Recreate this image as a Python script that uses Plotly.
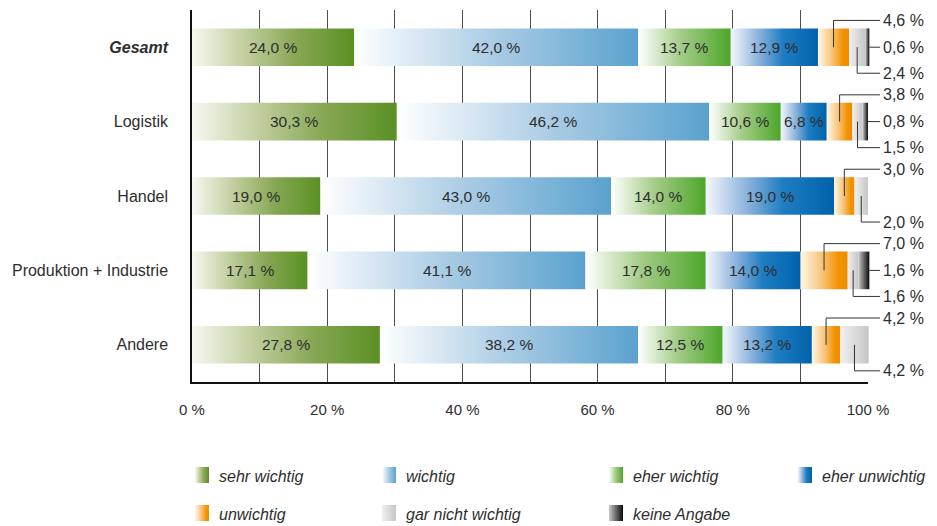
import plotly.graph_objects as go

# ---- data -----------------------------------------------------------------
CATEGORIES = ["Gesamt", "Logistik", "Handel", "Produktion + Industrie", "Andere"]
CATEGORY_LABELS = ["<b><i>Gesamt</i></b>", "Logistik", "Handel",
                   "Produktion + Industrie", "Andere"]

SERIES = ["sehr wichtig", "wichtig", "eher wichtig", "eher unwichtig",
          "unwichtig", "gar nicht wichtig", "keine Angabe"]

SEHR_WICHTIG = [24.0, 30.3, 19.0, 17.1, 27.8]
WICHTIG = [42.0, 46.2, 43.0, 41.1, 38.2]
EHER_WICHTIG = [13.7, 10.6, 14.0, 17.8, 12.5]
EHER_UNWICHTIG = [12.9, 6.8, 19.0, 14.0, 13.2]
UNWICHTIG = [4.6, 3.8, 3.0, 7.0, 4.2]
GAR_NICHT_WICHTIG = [2.4, 1.5, 2.0, 1.6, 4.2]
KEINE_ANGABE = [0.6, 0.8, 0.0, 1.6, 0.0]

VALUES = [SEHR_WICHTIG, WICHTIG, EHER_WICHTIG, EHER_UNWICHTIG,
          UNWICHTIG, GAR_NICHT_WICHTIG, KEINE_ANGABE]

X_TICKS = [0, 20, 40, 60, 80, 100]
X_TICK_LABELS = ["0 %", "20 %", "40 %", "60 %", "80 %", "100 %"]
X_MINOR_TICKS = [10, 30, 50, 70, 90]

# ---- styling --------------------------------------------------------------
GRADIENTS = [
    [[0, "#f8f8f2"], [0.35, "#bccb98"], [0.65, "#86a653"], [1, "#5a9024"]],
    [[0, "#ffffff"], [0.5, "#a9cbe4"], [1, "#5aa2ce"]],
    [[0, "#ffffff"], [0.45, "#a6cd8a"], [1, "#4ca62a"]],
    [[0, "#f4f7fc"], [0.3, "#93b7de"], [0.6, "#1f7dc2"], [1, "#0062ab"]],
    [[0, "#fff7ea"], [0.45, "#f8c47a"], [0.8, "#f39300"], [1, "#f08c00"]],
    [[0, "#f0f0f0"], [1, "#c5c6c8"]],
    [[0, "#c8c8c8"], [0.6, "#555555"], [1, "#0a0a0a"]],
]

FONT = "Liberation Sans, Arial, Helvetica, sans-serif"
TEXT_COLOR = "#2e2e2e"
LEADER_COLOR = "#333333"
GRID_COLOR = "#4d4d4d"

W, H = 937, 526
PLOT_L, PLOT_R, PLOT_T, PLOT_B = 192, 868, 10, 382
BAR_HALF = 0.253
TOP_OFFSET = -0.36
BOTTOM_OFFSET = 0.35

x_dom = [PLOT_L / W, PLOT_R / W]
y_dom = [1 - PLOT_B / H, 1 - PLOT_T / H]
# data subplot shares the same scale but reaches to the right edge
x2_max = 100 * (W - PLOT_L) / (PLOT_R - PLOT_L)
LEADER_END = 100 + 12 * 100 / (PLOT_R - PLOT_L)
LABEL_X = LEADER_END + 0.15


def fmt(v):
    return f"{v:.1f}".replace(".", ",") + " %"


fig = go.Figure()

# empty trace so the grid / axis subplot exists
fig.add_trace(go.Scatter(x=[None], y=[None], xaxis="x", yaxis="y",
                         showlegend=False, hoverinfo="skip"))

annotations = []
shapes = []


def callout(path, x, y, text):
    shapes.append(dict(type="path", xref="x2", yref="y2", path=path,
                       line=dict(color=LEADER_COLOR, width=1)))
    annotations.append(dict(x=x, y=y, xref="x2", yref="y2", text=text,
                            xanchor="left", showarrow=False,
                            font=dict(family=FONT, size=16, color=TEXT_COLOR)))


for i, cat in enumerate(CATEGORIES):
    left = 0.0
    centers = {}
    for s, vals in enumerate(VALUES):
        v = vals[i]
        if v <= 0:
            continue
        right = left + v
        fig.add_trace(go.Scatter(
            x=[left, right, right, left, left],
            y=[i - BAR_HALF, i - BAR_HALF, i + BAR_HALF, i + BAR_HALF, i - BAR_HALF],
            xaxis="x2", yaxis="y2",
            mode="lines", line=dict(width=0),
            fill="toself",
            fillgradient=dict(type="horizontal", colorscale=GRADIENTS[s]),
            name=SERIES[s], showlegend=False, hoverinfo="skip",
        ))
        centers[s] = (left + v / 2, right)
        if s < 4:
            annotations.append(dict(
                x=left + v / 2, y=i, xref="x2", yref="y2", text=fmt(v),
                showarrow=False, font=dict(family=FONT, size=15.5, color=TEXT_COLOR),
            ))
        left = right

    # call-outs for the small segments
    if 4 in centers:
        c = centers[4][0]
        yy = i + TOP_OFFSET
        callout(f"M {c},{i} L {c},{yy} L {LEADER_END},{yy}", LABEL_X, yy, fmt(UNWICHTIG[i]))
    if 5 in centers:
        c = centers[5][0]
        yy = i + BOTTOM_OFFSET
        callout(f"M {c},{i} L {c},{yy} L {LEADER_END},{yy}", LABEL_X, yy,
                fmt(GAR_NICHT_WICHTIG[i]))
    if 6 in centers:
        end = centers[6][1]
        callout(f"M {end},{i} L {LEADER_END},{i}", LABEL_X, i, fmt(KEINE_ANGABE[i]))

# ---- legend (drawn on a pixel-space overlay) ------------------------------
LEGEND_COLS = [195, 382, 609, 798]
LEGEND_ROWS = [475, 513]
SW_W, SW_H = 14, 16
for s, name in enumerate(SERIES):
    col, row = s % 4, s // 4
    sx, ry = LEGEND_COLS[col], LEGEND_ROWS[row]
    fig.add_trace(go.Scatter(
        x=[sx, sx + SW_W, sx + SW_W, sx, sx],
        y=[ry - SW_H / 2, ry - SW_H / 2, ry + SW_H / 2, ry + SW_H / 2, ry - SW_H / 2],
        xaxis="x3", yaxis="y3", mode="lines", line=dict(width=0),
        fill="toself", fillgradient=dict(type="horizontal", colorscale=GRADIENTS[s]),
        showlegend=False, hoverinfo="skip",
    ))
    annotations.append(dict(x=sx + SW_W + 8, y=ry + 1, xref="x3", yref="y3",
                            text=f"<i>{name}</i>", xanchor="left", yanchor="middle",
                            showarrow=False,
                            font=dict(family=FONT, size=16, color=TEXT_COLOR)))

fig.update_layout(
    width=W, height=H,
    margin=dict(l=0, r=0, t=0, b=0),
    paper_bgcolor="white", plot_bgcolor="rgba(0,0,0,0)",
    template="none",
    showlegend=False,
    font=dict(family=FONT, size=16, color=TEXT_COLOR),
    xaxis=dict(
        domain=x_dom, anchor="y", range=[0, 100], automargin=False,
        tickmode="array", tickvals=X_TICKS, ticktext=X_TICK_LABELS,
        ticks="", ticklabelstandoff=13,
        tickfont=dict(family=FONT, size=15, color=TEXT_COLOR),
        showgrid=True, gridcolor=GRID_COLOR, gridwidth=1,
        minor=dict(tickmode="array", tickvals=X_MINOR_TICKS, showgrid=True,
                   gridcolor=GRID_COLOR, gridwidth=1),
        zeroline=False, showline=True, linecolor="#111111", linewidth=1.5,
        fixedrange=True,
    ),
    yaxis=dict(
        domain=y_dom, anchor="x", range=[4.5, -0.5], automargin=False,
        tickmode="array", tickvals=list(range(len(CATEGORIES))), ticktext=CATEGORY_LABELS,
        ticks="", ticklabelstandoff=19,
        tickfont=dict(family=FONT, size=16, color=TEXT_COLOR),
        showgrid=False, zeroline=False,
        showline=True, linecolor="#111111", linewidth=1.5, fixedrange=True,
    ),
    xaxis2=dict(domain=[PLOT_L / W, 1], anchor="y2", range=[0, x2_max],
                visible=False, fixedrange=True),
    yaxis2=dict(domain=y_dom, anchor="x2", range=[4.5, -0.5],
                visible=False, fixedrange=True),
    xaxis3=dict(domain=[0, 1], anchor="y3", range=[0, W], visible=False, fixedrange=True),
    yaxis3=dict(domain=[0, 1], anchor="x3", range=[H, 0], visible=False, fixedrange=True),
    annotations=annotations,
    shapes=shapes,
)

fig.write_html("out.html")
